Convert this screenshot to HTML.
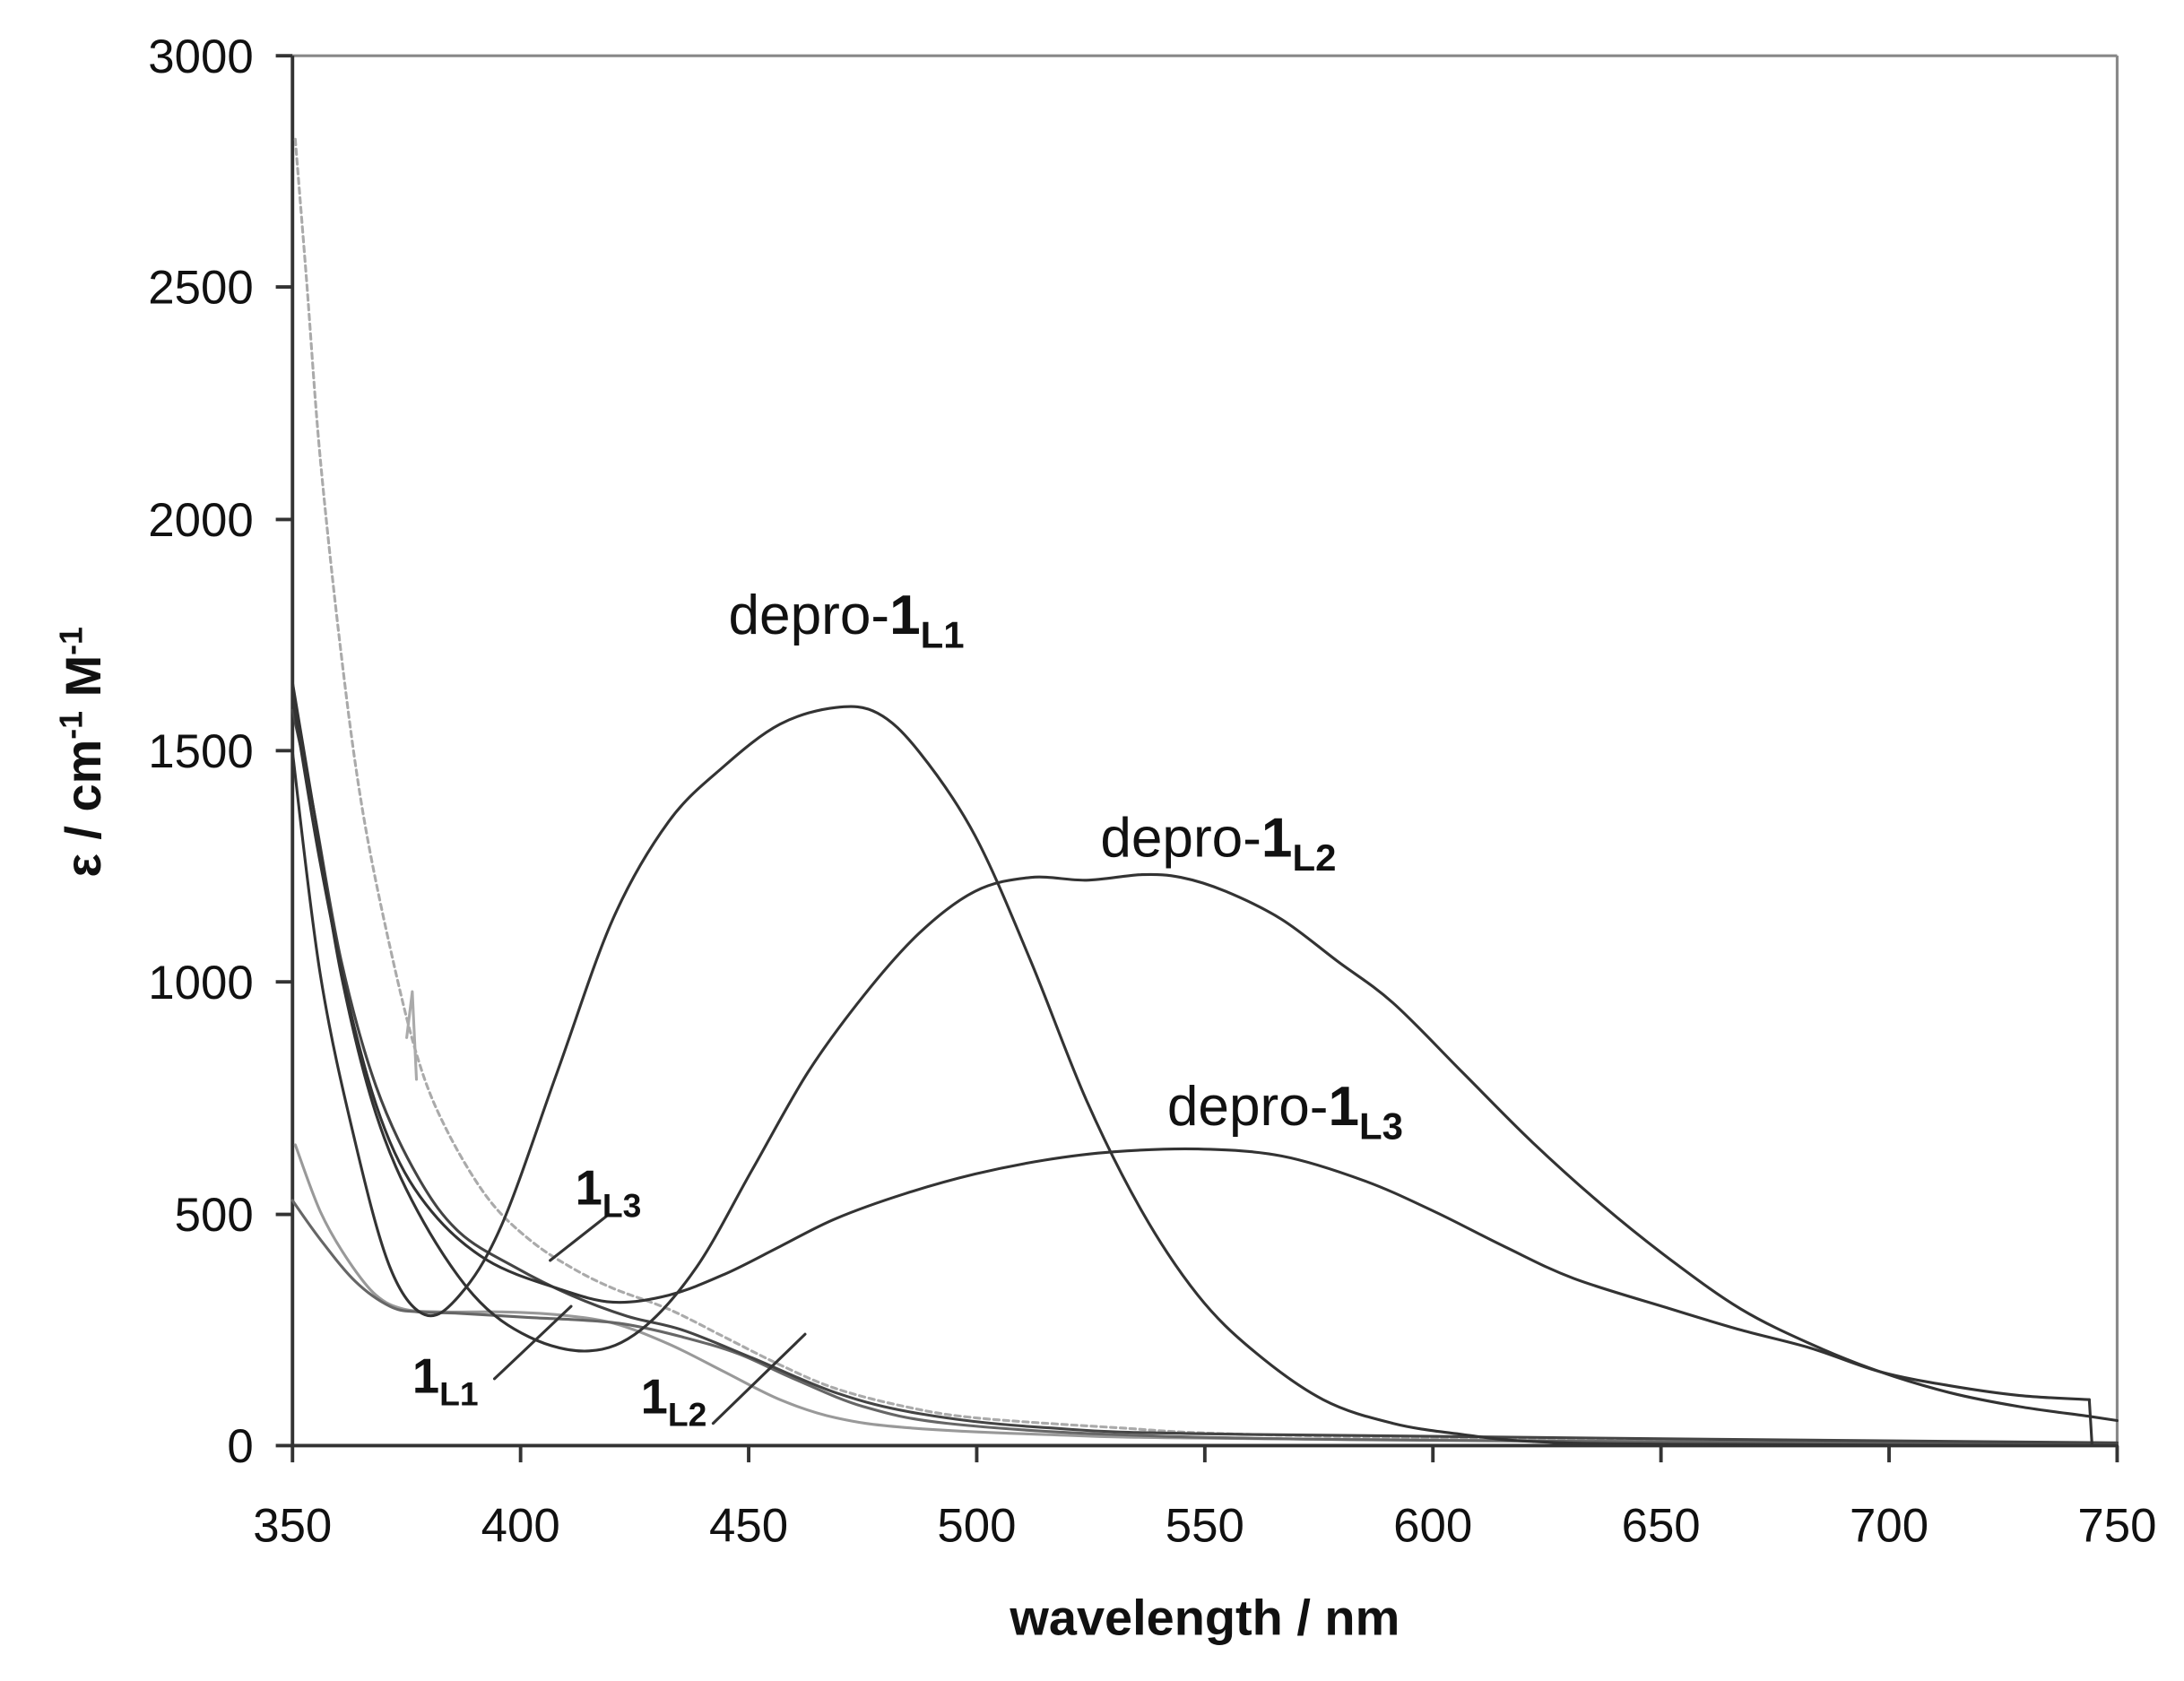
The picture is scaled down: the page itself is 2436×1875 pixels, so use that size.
<!DOCTYPE html>
<html><head><meta charset="utf-8"><style>
html,body{margin:0;padding:0;background:#fff;}
svg{display:block;}
text{font-family:"Liberation Sans",Arial,sans-serif;fill:#111;}
</style></head><body>
<svg id="c" width="2436" height="1875" viewBox="0 0 1568 1207" preserveAspectRatio="none" xmlns="http://www.w3.org/2000/svg">
<rect x="0" y="0" width="1568" height="1207" fill="#fff"/>
<line x1="210" y1="40" x2="1520" y2="40" stroke="#888" stroke-width="2"/>
<line x1="1520" y1="40" x2="1520" y2="1038" stroke="#888" stroke-width="2"/>
<line x1="210" y1="40" x2="210" y2="1038" stroke="#333" stroke-width="2.5"/>
<line x1="210" y1="1038" x2="1520" y2="1038" stroke="#333" stroke-width="2.5"/>
<g stroke="#333" stroke-width="2.5">
<line x1="198" y1="40" x2="210" y2="40"/><line x1="198" y1="206" x2="210" y2="206"/>
<line x1="198" y1="373" x2="210" y2="373"/><line x1="198" y1="539" x2="210" y2="539"/>
<line x1="198" y1="705" x2="210" y2="705"/><line x1="198" y1="872" x2="210" y2="872"/>
<line x1="198" y1="1038" x2="210" y2="1038"/>
<line x1="210" y1="1038" x2="210" y2="1050"/><line x1="373.75" y1="1038" x2="373.75" y2="1050"/>
<line x1="537.5" y1="1038" x2="537.5" y2="1050"/><line x1="701.25" y1="1038" x2="701.25" y2="1050"/>
<line x1="865" y1="1038" x2="865" y2="1050"/><line x1="1028.75" y1="1038" x2="1028.75" y2="1050"/>
<line x1="1192.5" y1="1038" x2="1192.5" y2="1050"/><line x1="1356.25" y1="1038" x2="1356.25" y2="1050"/>
<line x1="1520" y1="1038" x2="1520" y2="1050"/>
</g>
<g font-size="34" text-anchor="end">
<text x="182" y="52">3000</text><text x="182" y="218">2500</text><text x="182" y="385">2000</text>
<text x="182" y="551">1500</text><text x="182" y="717">1000</text><text x="182" y="884">500</text>
<text x="182" y="1050">0</text>
</g>
<g font-size="34" text-anchor="middle">
<text x="210" y="1107">350</text><text x="373.75" y="1107">400</text><text x="537.5" y="1107">450</text>
<text x="701.25" y="1107">500</text><text x="865" y="1107">550</text><text x="1028.75" y="1107">600</text>
<text x="1192.5" y="1107">650</text><text x="1356.25" y="1107">700</text><text x="1520" y="1107">750</text>
</g>
<text x="865" y="1174" font-size="36" font-weight="bold" text-anchor="middle">wavelength / nm</text>
<text transform="translate(72,540) rotate(-90)" font-size="36" font-weight="bold" text-anchor="middle">ε / cm<tspan dy="-13" font-size="23">-1</tspan><tspan dy="13"> M</tspan><tspan dy="-13" font-size="23">-1</tspan></text>

<g fill="none" stroke-linejoin="round" stroke-linecap="round">
<polyline class="s" stroke="#aaa" stroke-width="2" stroke-dasharray="4,3" points="212,100 220,200 230,330 245,470 260,580 280,680 300,760 320,810 350,860 380,890 410,910 440,925 480,940 520,960 560,980 600,997 650,1010 700,1018 800,1025 900,1030 1200,1035 1520,1037"/>
<polyline stroke="#aaa" stroke-width="2" points="292,745 296,712 299,775"/>
<polyline class="s" stroke="#999" stroke-width="2" points="212,822 230,870 250,905 270,930 290,940 320,942 360,942 400,944 440,950 480,965 520,985 560,1005 600,1018 650,1025 750,1030 900,1033 1520,1037"/>
<polyline class="s" stroke="#666" stroke-width="2" points="210,862 230,890 255,920 280,938 300,942 330,943 380,946 420,948 450,951 490,960 530,972 570,990 620,1010 680,1022 800,1030 1000,1034 1520,1037"/>
<polyline class="s" stroke="#444" stroke-width="2" points="210,510 225,580 245,690 270,780 300,845 330,885 370,910 410,930 450,945 490,955 540,975 600,1000 660,1015 750,1025 900,1030 1520,1036"/>
<polyline class="s" stroke="#333" stroke-width="2" points="210,540 230,700 255,820 280,910 305,944 330,930 360,880 400,770 440,660 480,590 520,550 560,520 600,508 630,512 660,540 700,600 740,690 780,790 820,870 860,930 900,970 950,1005 1000,1022 1050,1030 1100,1035 1200,1037 1520,1038"/>
<polyline class="s" stroke="#333" stroke-width="2" points="210,490 225,580 245,700 270,800 300,870 340,930 380,960 423,970 460,955 500,910 540,840 580,770 620,715 660,670 700,640 740,630 780,632 820,628 848,630 880,640 920,660 960,690 1000,720 1050,770 1100,820 1150,865 1200,905 1250,940 1300,965 1350,985 1400,1000 1450,1010 1500,1017 1520,1020"/>
<polyline class="s" stroke="#333" stroke-width="2" points="210,500 230,620 255,740 280,820 310,870 350,905 400,925 440,935 480,930 520,915 560,895 600,875 650,857 700,843 750,833 800,827 860,825 920,830 980,848 1030,870 1080,895 1130,918 1200,940 1250,955 1300,968 1350,985 1400,995 1450,1002 1500,1005"/>
<line x1="1500" y1="1005" x2="1502" y2="1038" stroke="#333" stroke-width="2"/>
<line x1="437" y1="872" x2="395" y2="905" stroke="#333" stroke-width="2"/>
<line x1="355" y1="990" x2="410" y2="938" stroke="#333" stroke-width="2"/>
<line x1="512" y1="1022" x2="578" y2="958" stroke="#333" stroke-width="2"/>
</g>

<g font-size="40">
<text x="523" y="455">depro-<tspan font-weight="bold">1</tspan><tspan font-weight="bold" font-size="27" dy="10">L1</tspan></text>
<text x="790" y="615">depro-<tspan font-weight="bold">1</tspan><tspan font-weight="bold" font-size="27" dy="10">L2</tspan></text>
<text x="838" y="808">depro-<tspan font-weight="bold">1</tspan><tspan font-weight="bold" font-size="27" dy="10">L3</tspan></text>
</g>
<g font-size="35" font-weight="bold">
<text x="413" y="865">1<tspan font-size="24" dy="9">L3</tspan></text>
<text x="296" y="1000">1<tspan font-size="24" dy="9">L1</tspan></text>
<text x="460" y="1015">1<tspan font-size="24" dy="9">L2</tspan></text>
</g>
</svg>
<script>
document.querySelectorAll('polyline.s').forEach(function(pl){
  var p=pl.getAttribute('points').trim().split(/\s+/).map(function(s){return s.split(',').map(Number);});
  var d='M'+p[0][0]+','+p[0][1];
  for(var i=0;i<p.length-1;i++){
    var p0=p[i-1]||p[i],p1=p[i],p2=p[i+1],p3=p[i+2]||p2;
    var c1x=p1[0]+(p2[0]-p0[0])/6,c1y=p1[1]+(p2[1]-p0[1])/6;
    var c2x=p2[0]-(p3[0]-p1[0])/6,c2y=p2[1]-(p3[1]-p1[1])/6;
    d+=' C'+c1x.toFixed(1)+','+c1y.toFixed(1)+' '+c2x.toFixed(1)+','+c2y.toFixed(1)+' '+p2[0]+','+p2[1];
  }
  var path=document.createElementNS('http://www.w3.org/2000/svg','path');
  ['stroke','stroke-width','stroke-dasharray'].forEach(function(a){if(pl.getAttribute(a))path.setAttribute(a,pl.getAttribute(a));});
  path.setAttribute('d',d);path.setAttribute('fill','none');
  pl.parentNode.replaceChild(path,pl);
});
</script>
</body></html>
